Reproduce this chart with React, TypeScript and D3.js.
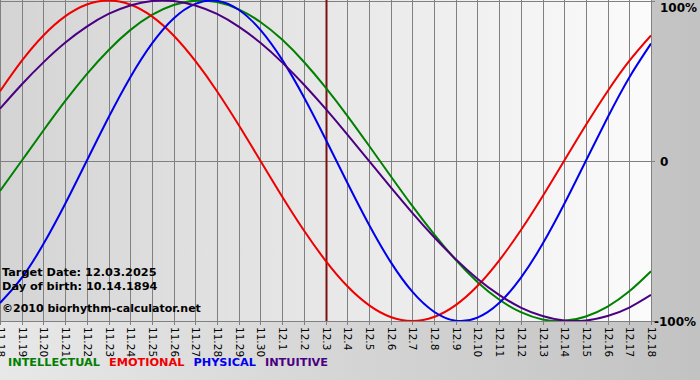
import React, { useLayoutEffect, useRef, useState } from "react";
import * as d3 from "d3";

const days: string[] = [
  "11.18","11.19","11.20","11.21","11.22","11.23","11.24","11.25","11.26","11.27","11.28","11.29","11.30",
  "12.1","12.2","12.3","12.4","12.5","12.6","12.7","12.8","12.9","12.10","12.11","12.12","12.13","12.14","12.15","12.16","12.17","12.18",
];

const physical: number[] = [-0.888,-0.731,-0.520,-0.270,0,0.270,0.520,0.731,0.888,0.979,0.998,0.942,0.817,0.631,0.398,0.136,-0.136,-0.398,-0.631,-0.817,-0.942,-0.998,-0.979,-0.888,-0.731,-0.520,-0.270,0,0.270,0.520,0.731];
const emotional: number[] = [0.434,0.623,0.782,0.901,0.975,1.0,0.975,0.901,0.782,0.623,0.434,0.223,0,-0.223,-0.434,-0.623,-0.782,-0.901,-0.975,-1.0,-0.975,-0.901,-0.782,-0.623,-0.434,-0.223,0,0.223,0.434,0.623,0.782];
const intellectual: number[] = [-0.189,0,0.189,0.372,0.541,0.690,0.815,0.910,0.972,0.999,0.990,0.945,0.866,0.756,0.618,0.458,0.282,0.095,-0.095,-0.282,-0.458,-0.618,-0.756,-0.866,-0.945,-0.990,-0.999,-0.972,-0.910,-0.815,-0.690];
const intuitive: number[] = [0.325,0.476,0.614,0.736,0.837,0.916,0.969,0.997,0.997,0.969,0.916,0.837,0.736,0.614,0.476,0.325,0.165,0,-0.165,-0.325,-0.476,-0.614,-0.736,-0.837,-0.916,-0.969,-0.997,-0.997,-0.969,-0.916,-0.837];

const series = [
  { name: "INTELLECTUAL", values: intellectual, color: "#008000" },
  { name: "EMOTIONAL", values: emotional, color: "#ee0000" },
  { name: "PHYSICAL", values: physical, color: "#0000ee" },
  { name: "INTUITIVE", values: intuitive, color: "#4b0082" },
];

const targetDay = "12.3";
const yTicks = [
  { v: 1, label: "100%" },
  { v: 0, label: "0" },
  { v: -1, label: "-100%" },
];
const infoLines = ["Target Date: 12.03.2025", "Day of birth: 10.14.1894"];
const copyright = "\u00a92010 biorhythm-calculator.net";

export default function App() {
  const W = 700, H = 380;
  const plotL = 0, plotR = 651, plotT = 0, plotB = 321;
  const x = d3.scaleLinear().domain([0, days.length - 1]).range([plotL, plotR]);
  const y = d3.scaleLinear().domain([-1, 1]).range([plotB, plotT + 0.5]);
  const line = d3
    .line<number>()
    .x((_, i) => x(i))
    .y((d) => y(d))
    .curve(d3.curveNatural);
  const tIdx = days.indexOf(targetDay);
  const font = "Tahoma, 'DejaVu Sans', Verdana, sans-serif";

  const legendRefs = useRef<(SVGTextElement | null)[]>([]);
  const [legendX, setLegendX] = useState<number[]>(series.map((_, i) => 8 + i * 85));
  useLayoutEffect(() => {
    let cx = 8;
    const xs: number[] = [];
    legendRefs.current.forEach((el) => {
      xs.push(cx);
      const w = el ? el.getComputedTextLength() : 80;
      cx += w + 9;
    });
    setLegendX(xs);
  }, []);

  return (
    <svg
      width={W}
      height={H}
      style={{ position: "absolute", left: 0, top: 0, display: "block" }}
      fontFamily={font}
    >
      <defs>
        <linearGradient id="outerBg" x1="0" x2="1" y1="0" y2="0">
          <stop offset="0" stopColor="#e8e8e8" />
          <stop offset="1" stopColor="#c2c2c2" />
        </linearGradient>
        <linearGradient id="plotBg" x1="0" x2="1" y1="0" y2="0">
          <stop offset="0" stopColor="#d4d4d4" />
          <stop offset="1" stopColor="#fbfbfb" />
        </linearGradient>
        <clipPath id="plotClip">
          <rect x={plotL} y={plotT} width={plotR - plotL} height={plotB - plotT} />
        </clipPath>
      </defs>
      <rect x={0} y={0} width={W} height={H} fill="url(#outerBg)" />
      <rect x={plotL} y={plotT} width={plotR - plotL} height={plotB - plotT} fill="url(#plotBg)" />

      {days.map((d, i) => (
        <line
          key={"g" + d}
          x1={Math.round(x(i)) + 0.5}
          x2={Math.round(x(i)) + 0.5}
          y1={plotT}
          y2={plotB + 4}
          stroke="#808080"
          strokeWidth={1}
        />
      ))}
      {yTicks.map((t) => (
        <line
          key={"h" + t.label}
          x1={plotL}
          x2={plotR + 4}
          y1={Math.round(y(t.v)) + 0.5}
          y2={Math.round(y(t.v)) + 0.5}
          stroke="#808080"
          strokeWidth={1}
        />
      ))}

      <line
        x1={Math.round(x(tIdx)) + 0.5}
        x2={Math.round(x(tIdx)) + 0.5}
        y1={plotT}
        y2={plotB}
        stroke="#7a1010"
        strokeWidth={2}
      />

      <g clipPath="url(#plotClip)">
        {series.map((s) => (
          <path key={s.name} d={line(s.values) || ""} fill="none" stroke={s.color} strokeWidth={2} />
        ))}
      </g>

      {yTicks.map((t) => (
        <text
          key={"yl" + t.label}
          x={t.v === -1 ? 654 : 660}
          y={Math.min(Math.max(y(t.v), 7), 322) + 5}
          fontSize={12}
          fontWeight="bold"
          fill="#000"
        >
          {t.label}
        </text>
      ))}

      {days.map((d, i) => (
        <text
          key={"xl" + d}
          transform={`translate(${Math.round(x(i)) + 0.5},${plotB + 6}) rotate(90)`}
          fontSize={10.5}
          fill="#000"
          dominantBaseline="central"
        >
          {d}
        </text>
      ))}

      {infoLines.map((t, i) => (
        <text key={t} x={2} y={276 + i * 14} fontSize={11.3} fontWeight="bold" fill="#000">
          {t}
        </text>
      ))}
      <text x={2} y={312} fontSize={11} fontWeight="bold" fill="#000">
        {copyright}
      </text>

      {series.map((s, i) => (
        <text
          key={"lg" + s.name}
          ref={(el) => {
            legendRefs.current[i] = el;
          }}
          x={legendX[i]}
          y={366}
          fontSize={11.3}
          fontWeight="bold"
          fill={s.color}
        >
          {s.name}
        </text>
      ))}
    </svg>
  );
}
